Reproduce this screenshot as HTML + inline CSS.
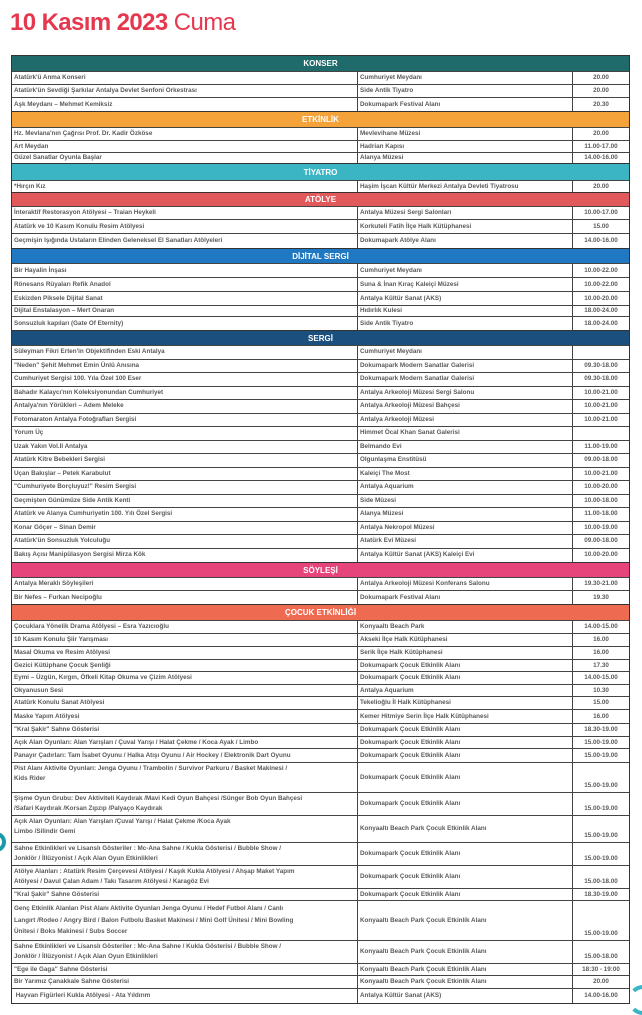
<!DOCTYPE html>
<html><head><meta charset="utf-8">
<style>
*{box-sizing:border-box;margin:0;padding:0}
body{width:642px;height:1015px;background:#fff;position:relative;overflow:hidden;font-family:"Liberation Sans",sans-serif}
h1{position:absolute;left:10px;top:9px;font-size:24px;color:#e5384f;letter-spacing:-0.6px;font-weight:bold;white-space:nowrap}
h1 span{font-weight:normal}
#t{position:absolute;left:11px;top:55px;width:619px;border:1px solid #333;border-top:0}
.h{display:flex;align-items:center;justify-content:center;color:#fff;font-weight:bold;font-size:8px;border-top:1px solid #333}
.r{display:flex;border-top:1px solid #444;font-size:6.3px;color:#5a5a5a;font-weight:bold;line-height:1.25}
.r>div{padding:0 2px;display:flex;align-items:center;overflow:hidden;white-space:nowrap}
.r .a{width:346px;border-right:1px solid #444}
.r .b{width:215px;border-right:1px solid #444}
.r .c{flex:1;justify-content:center}
.m .a{align-items:flex-start;padding-top:1px;line-height:9.5px}
.m .c{align-items:flex-end;padding-bottom:2px}
.deco{position:absolute;border:4px solid #3bb5c4;border-radius:50%}
</style></head><body>
<h1>10 Kasım 2023 <span>Cuma</span></h1>
<div class="deco" style="left:-14px;top:832px;width:20px;height:20px;border-color:#1a9aa8"></div>
<div class="deco" style="left:628px;top:985px;width:30px;height:30px;border-left-color:transparent"></div>
<div id="t">
<div class="h" style="height:16px;background:#1f6b6b">KONSER</div>
<div class="r" style="height:13px"><div class="a">Atatürk'ü Anma Konseri</div><div class="b">Cumhuriyet Meydanı</div><div class="c">20.00</div></div>
<div class="r" style="height:13px"><div class="a">Atatürk'ün Sevdiği Şarkılar Antalya Devlet Senfoni Orkestrası</div><div class="b">Side Antik Tiyatro</div><div class="c">20.00</div></div>
<div class="r" style="height:14px"><div class="a">Aşk Meydanı – Mehmet Kemiksiz</div><div class="b">Dokumapark Festival Alanı</div><div class="c">20.30</div></div>
<div class="h" style="height:16px;background:#f4a23a">ETKİNLİK</div>
<div class="r" style="height:13px"><div class="a">Hz. Mevlana'nın Çağrısı Prof. Dr. Kadir Özköse</div><div class="b">Mevlevihane Müzesi</div><div class="c">20.00</div></div>
<div class="r" style="height:12px"><div class="a">Art Meydan</div><div class="b">Hadrian Kapısı</div><div class="c">11.00-17.00</div></div>
<div class="r" style="height:11px"><div class="a">Güzel Sanatlar Oyunla Başlar</div><div class="b">Alanya Müzesi</div><div class="c">14.00-16.00</div></div>
<div class="h" style="height:17px;background:#3bb5c4">TİYATRO</div>
<div class="r" style="height:12px"><div class="a">*Hırçın Kız</div><div class="b">Haşim İşcan Kültür Merkezi Antalya Devleti Tiyatrosu</div><div class="c">20.00</div></div>
<div class="h" style="height:14px;background:#e2595c">ATÖLYE</div>
<div class="r" style="height:13px"><div class="a">İnteraktif Restorasyon Atölyesi – Traian Heykeli</div><div class="b">Antalya Müzesi Sergi Salonları</div><div class="c">10.00-17.00</div></div>
<div class="r" style="height:14px"><div class="a">Atatürk ve 10 Kasım Konulu Resim Atölyesi</div><div class="b">Korkuteli Fatih İlçe Halk Kütüphanesi</div><div class="c">15.00</div></div>
<div class="r" style="height:15px"><div class="a">Geçmişin Işığında Ustaların Elinden Geleneksel El Sanatları Atölyeleri</div><div class="b">Dokumapark Atölye Alanı</div><div class="c">14.00-16.00</div></div>
<div class="h" style="height:15px;background:#1f78c1">DİJİTAL SERGİ</div>
<div class="r" style="height:14px"><div class="a">Bir Hayalin İnşası</div><div class="b">Cumhuriyet Meydanı</div><div class="c">10.00-22.00</div></div>
<div class="r" style="height:14px"><div class="a">Rönesans Rüyaları Refik Anadol</div><div class="b">Suna &amp; İnan Kıraç Kaleiçi Müzesi</div><div class="c">10.00-22.00</div></div>
<div class="r" style="height:14px"><div class="a">Eskizden Piksele Dijital Sanat</div><div class="b">Antalya Kültür Sanat (AKS)</div><div class="c">10.00-20.00</div></div>
<div class="r" style="height:11px"><div class="a">Dijital Enstalasyon – Mert Onaran</div><div class="b">Hıdırlık Kulesi</div><div class="c">18.00-24.00</div></div>
<div class="r" style="height:14px"><div class="a">Sonsuzluk kapıları (Gate Of Eternity)</div><div class="b">Side Antik Tiyatro</div><div class="c">18.00-24.00</div></div>
<div class="h" style="height:15px;background:#1a4f7e">SERGİ</div>
<div class="r" style="height:13.5px"><div class="a">Süleyman Fikri Erten'in Objektifinden Eski Antalya</div><div class="b">Cumhuriyet Meydanı</div><div class="c"></div></div>
<div class="r" style="height:13.5px"><div class="a">"Neden" Şehit Mehmet Emin Ünlü Anısına</div><div class="b">Dokumapark Modern Sanatlar Galerisi</div><div class="c">09.30-18.00</div></div>
<div class="r" style="height:13.5px"><div class="a">Cumhuriyet Sergisi 100. Yıla Özel 100 Eser</div><div class="b">Dokumapark Modern Sanatlar Galerisi</div><div class="c">09.30-18.00</div></div>
<div class="r" style="height:13.5px"><div class="a">Bahadır Kalaycı'nın Koleksiyonundan Cumhuriyet</div><div class="b">Antalya Arkeoloji Müzesi Sergi Salonu</div><div class="c">10.00-21.00</div></div>
<div class="r" style="height:13.5px"><div class="a">Antalya'nın Yörükleri – Adem Meleke</div><div class="b">Antalya Arkeoloji Müzesi Bahçesi</div><div class="c">10.00-21.00</div></div>
<div class="r" style="height:13.5px"><div class="a">Fotomaraton Antalya Fotoğrafları Sergisi</div><div class="b">Antalya Arkeoloji Müzesi</div><div class="c">10.00-21.00</div></div>
<div class="r" style="height:13.5px"><div class="a">Yorum Üç</div><div class="b">Himmet Öcal Khan Sanat Galerisi</div><div class="c"></div></div>
<div class="r" style="height:13.5px"><div class="a">Uzak Yakın Vol.II Antalya</div><div class="b">Belmando Evi</div><div class="c">11.00-19.00</div></div>
<div class="r" style="height:13.5px"><div class="a">Atatürk Kitre Bebekleri Sergisi</div><div class="b">Olgunlaşma Enstitüsü</div><div class="c">09.00-18.00</div></div>
<div class="r" style="height:13.5px"><div class="a">Uçan Bakışlar – Petek Karabulut</div><div class="b">Kaleiçi The Most</div><div class="c">10.00-21.00</div></div>
<div class="r" style="height:13.5px"><div class="a">"Cumhuriyete Borçluyuz!" Resim Sergisi</div><div class="b">Antalya Aquarium</div><div class="c">10.00-20.00</div></div>
<div class="r" style="height:13.5px"><div class="a">Geçmişten Günümüze Side Antik Kenti</div><div class="b">Side Müzesi</div><div class="c">10.00-18.00</div></div>
<div class="r" style="height:13.5px"><div class="a">Atatürk ve Alanya Cumhuriyetin 100. Yılı Özel Sergisi</div><div class="b">Alanya Müzesi</div><div class="c">11.00-18.00</div></div>
<div class="r" style="height:13.5px"><div class="a">Konar Göçer – Sinan Demir</div><div class="b">Antalya Nekropol Müzesi</div><div class="c">10.00-19.00</div></div>
<div class="r" style="height:13.5px"><div class="a">Atatürk'ün Sonsuzluk Yolculuğu</div><div class="b">Atatürk Evi Müzesi</div><div class="c">09.00-18.00</div></div>
<div class="r" style="height:14.5px"><div class="a">Bakış Açısı Manipülasyon Sergisi Mirza Kök</div><div class="b">Antalya Kültür Sanat (AKS) Kaleiçi Evi</div><div class="c">10.00-20.00</div></div>
<div class="h" style="height:15px;background:#e5457a">SÖYLEŞİ</div>
<div class="r" style="height:13px"><div class="a">Antalya Meraklı Söyleşileri</div><div class="b">Antalya Arkeoloji Müzesi Konferans Salonu</div><div class="c">19.30-21.00</div></div>
<div class="r" style="height:14px"><div class="a">Bir Nefes – Furkan Necipoğlu</div><div class="b">Dokumapark Festival Alanı</div><div class="c">19.30</div></div>
<div class="h" style="height:16px;background:#ee6b52">ÇOCUK ETKİNLİĞİ</div>
<div class="r" style="height:13px"><div class="a">Çocuklara Yönelik Drama Atölyesi – Esra Yazıcıoğlu</div><div class="b">Konyaaltı Beach Park</div><div class="c">14.00-15.00</div></div>
<div class="r" style="height:13px"><div class="a">10 Kasım Konulu Şiir Yarışması</div><div class="b">Akseki İlçe Halk Kütüphanesi</div><div class="c">16.00</div></div>
<div class="r" style="height:13px"><div class="a">Masal Okuma ve Resim Atölyesi</div><div class="b">Serik İlçe Halk Kütüphanesi</div><div class="c">16.00</div></div>
<div class="r" style="height:12px"><div class="a">Gezici Kütüphane Çocuk Şenliği</div><div class="b">Dokumapark Çocuk Etkinlik Alanı</div><div class="c">17.30</div></div>
<div class="r" style="height:13px"><div class="a">Eymi – Üzgün, Kırgın, Öfkeli Kitap Okuma ve Çizim Atölyesi</div><div class="b">Dokumapark Çocuk Etkinlik Alanı</div><div class="c">14.00-15.00</div></div>
<div class="r" style="height:12px"><div class="a">Okyanusun Sesi</div><div class="b">Antalya Aquarium</div><div class="c">10.30</div></div>
<div class="r" style="height:13px"><div class="a">Atatürk Konulu Sanat Atölyesi</div><div class="b">Tekelioğlu İl Halk Kütüphanesi</div><div class="c">15.00</div></div>
<div class="r" style="height:14px"><div class="a">Maske Yapım Atölyesi</div><div class="b">Kemer Hitmiye Serin İlçe Halk Kütüphanesi</div><div class="c">16.00</div></div>
<div class="r" style="height:13px"><div class="a">"Kral Şakir" Sahne Gösterisi</div><div class="b">Dokumapark Çocuk Etkinlik Alanı</div><div class="c">18.30-19.00</div></div>
<div class="r" style="height:12px"><div class="a">Açık Alan Oyunları: Alan Yarışları / Çuval Yarışı / Halat Çekme / Koca Ayak / Limbo</div><div class="b">Dokumapark Çocuk Etkinlik Alanı</div><div class="c">15.00-19.00</div></div>
<div class="r" style="height:14px"><div class="a">Panayır Çadırları: Tam İsabet Oyunu / Halka Atışı Oyunu / Air Hockey / Elektronik Dart Oyunu</div><div class="b">Dokumapark Çocuk Etkinlik Alanı</div><div class="c">15.00-19.00</div></div>
<div class="r m" style="height:30px"><div class="a">Pist Alanı Aktivite Oyunları: Jenga Oyunu / Trambolin / Survivor Parkuru / Basket Makinesi /<br>Kids Rider</div><div class="b">Dokumapark Çocuk Etkinlik Alanı</div><div class="c">15.00-19.00</div></div>
<div class="r m" style="height:23px"><div class="a">Şişme Oyun Grubu: Dev Aktiviteli Kaydırak /Mavi Kedi Oyun Bahçesi /Sünger Bob Oyun Bahçesi<br>/Safari Kaydırak /Korsan Zıpzıp /Palyaço Kaydırak</div><div class="b">Dokumapark Çocuk Etkinlik Alanı</div><div class="c">15.00-19.00</div></div>
<div class="r m" style="height:27px"><div class="a">Açık Alan Oyunları: Alan Yarışları /Çuval Yarışı / Halat Çekme /Koca Ayak<br>Limbo /Silindir Gemi</div><div class="b">Konyaaltı Beach Park Çocuk Etkinlik Alanı</div><div class="c">15.00-19.00</div></div>
<div class="r m" style="height:23px"><div class="a">Sahne Etkinlikleri ve Lisanslı Gösteriler : Mc-Ana Sahne / Kukla Gösterisi / Bubble Show /<br>Jonklör / İllüzyonist / Açık Alan Oyun Etkinlikleri</div><div class="b">Dokumapark Çocuk Etkinlik Alanı</div><div class="c">15.00-19.00</div></div>
<div class="r m" style="height:23px"><div class="a">Atölye Alanları : Atatürk Resim Çerçevesi Atölyesi / Kaşık Kukla Atölyesi / Ahşap Maket Yapım<br>Atölyesi / Davul Çalan Adam / Takı Tasarım Atölyesi / Karagöz Evi</div><div class="b">Dokumapark Çocuk Etkinlik Alanı</div><div class="c">15.00-18.00</div></div>
<div class="r" style="height:12px"><div class="a">"Kral Şakir" Sahne Gösterisi</div><div class="b">Dokumapark Çocuk Etkinlik Alanı</div><div class="c">18.30-19.00</div></div>
<div class="r m" style="height:40px"><div class="a" style="padding-top:2px;line-height:11.5px">Genç Etkinlik Alanları Pist Alanı Aktivite Oyunları Jenga Oyunu / Hedef Futbol Alanı / Canlı<br>Langırt /Rodeo / Angry Bird / Balon Futbolu Basket Makinesi / Mini Golf Ünitesi / Mini Bowling<br>Ünitesi / Boks Makinesi / Subs Soccer</div><div class="b">Konyaaltı Beach Park Çocuk Etkinlik Alanı</div><div class="c">15.00-19.00</div></div>
<div class="r m" style="height:23px"><div class="a">Sahne Etkinlikleri ve Lisanslı Gösteriler : Mc-Ana Sahne / Kukla Gösterisi / Bubble Show /<br>Jonklör / İllüzyonist / Açık Alan Oyun Etkinlikleri</div><div class="b">Konyaaltı Beach Park Çocuk Etkinlik Alanı</div><div class="c">15.00-18.00</div></div>
<div class="r" style="height:12px"><div class="a">"Ege ile Gaga" Sahne Gösterisi</div><div class="b">Konyaaltı Beach Park Çocuk Etkinlik Alanı</div><div class="c">18:30 - 19:00</div></div>
<div class="r" style="height:13px"><div class="a">Bir Yarımız Çanakkale Sahne Gösterisi</div><div class="b">Konyaaltı Beach Park Çocuk Etkinlik Alanı</div><div class="c">20.00</div></div>
<div class="r" style="height:15px"><div class="a">&nbsp;Hayvan Figürleri Kukla Atölyesi - Ata Yıldırım</div><div class="b">Antalya Kültür Sanat (AKS)</div><div class="c">14.00-16.00</div></div>
</div>
</body></html>
